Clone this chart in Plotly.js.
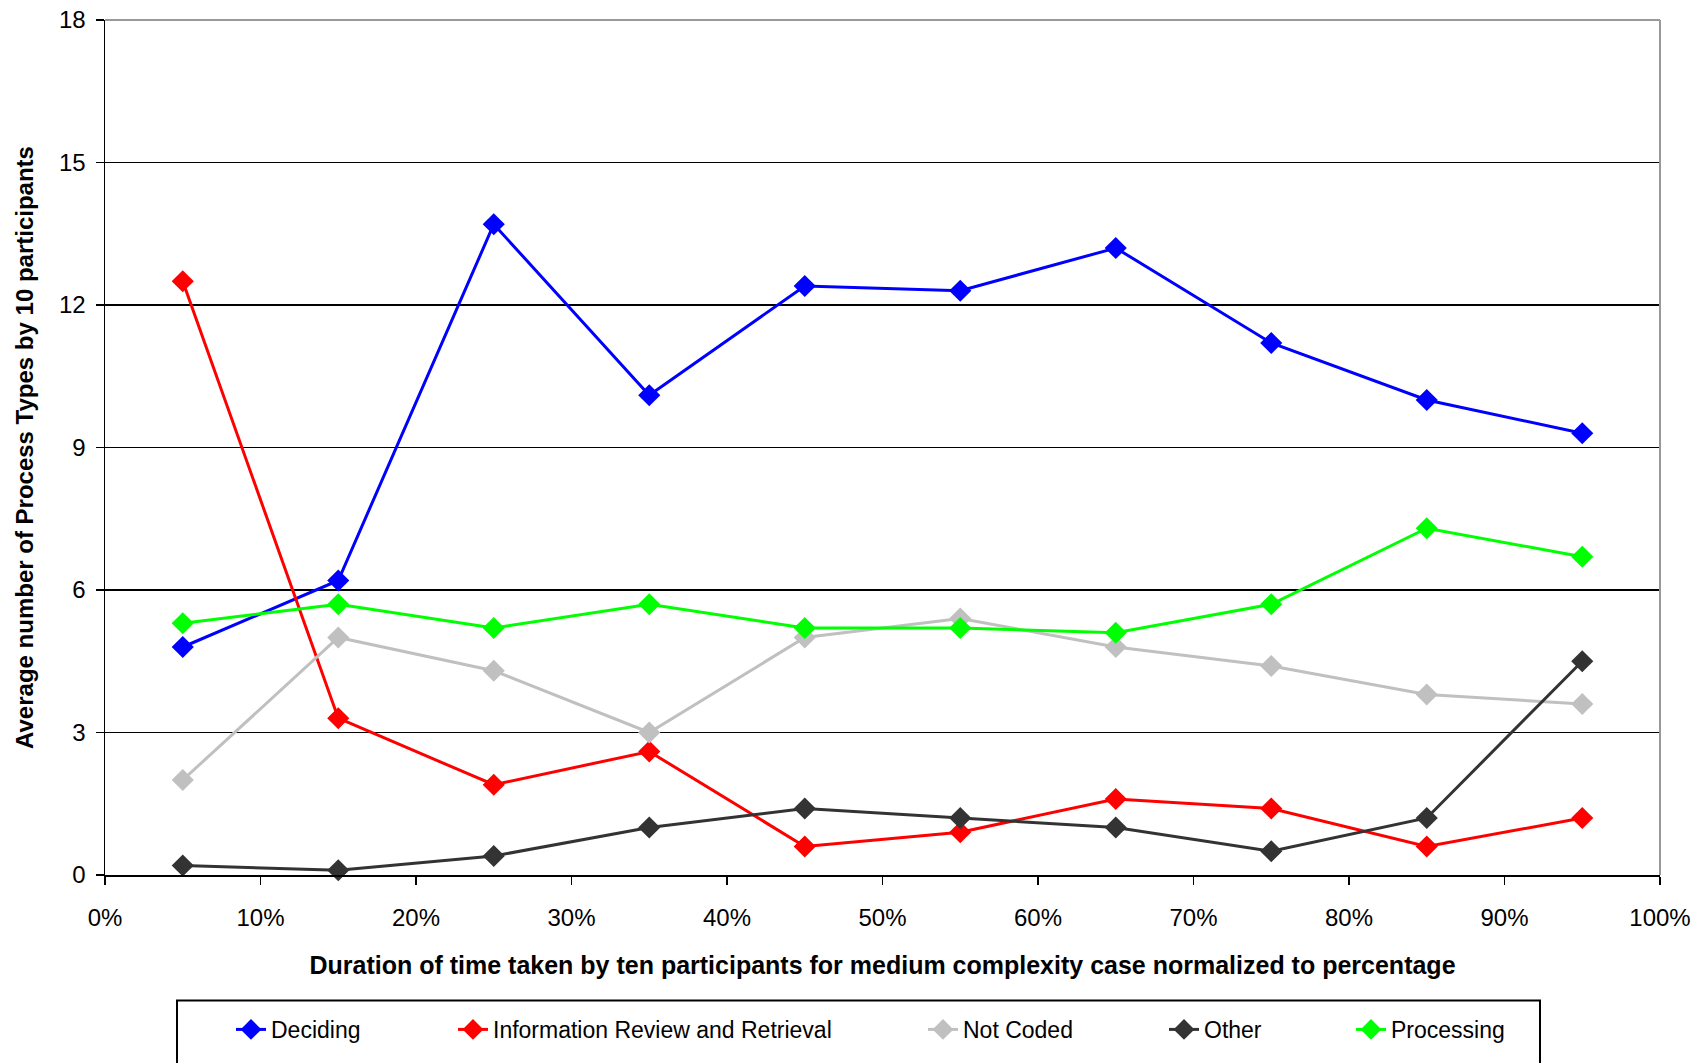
<!DOCTYPE html>
<html>
<head>
<meta charset="utf-8">
<script src="https://cdn.plot.ly/plotly-3.0.1.min.js"></script>
<style>html,body{margin:0;padding:0;background:#fff;}#chart{width:1706px;height:1063px;}</style>
</head>
<body>
<div id="chart"></div>
<script>
const xPercent = [5, 15, 25, 35, 45, 55, 65, 75, 85, 95];
const seriesNames = ["Deciding", "Information Review and Retrieval", "Not Coded", "Other", "Processing"];
const deciding = [4.8, 6.2, 13.7, 10.1, 12.4, 12.3, 13.2, 11.2, 10.0, 9.3];
const infoReview = [12.5, 3.3, 1.9, 2.6, 0.6, 0.9, 1.6, 1.4, 0.6, 1.2];
const notCoded = [2.0, 5.0, 4.3, 3.0, 5.0, 5.4, 4.8, 4.4, 3.8, 3.6];
const other = [0.2, 0.1, 0.4, 1.0, 1.4, 1.2, 1.0, 0.5, 1.2, 4.5];
const processing = [5.3, 5.7, 5.2, 5.7, 5.2, 5.2, 5.1, 5.7, 7.3, 6.7];
const xTickVals = [0, 10, 20, 30, 40, 50, 60, 70, 80, 90, 100];
const yTickVals = [0, 3, 6, 9, 12, 15, 18];

const seriesData = [deciding, infoReview, notCoded, other, processing];
const colors = ["#0000FF", "#FF0000", "#C0C0C0", "#333333", "#00FF00"];

// plot-area geometry in pixels
const W = 1706, H = 1063;
const L = 105, R = 46, T = 20, B = 185;
const pw = W - L - R, ph = H - T - B;
const px2x = p => (p - L) / pw;
const py2y = p => (H - B - p) / ph;

const legendTextStarts = [273, 495, 965, 1206, 1393];
const legendIds = ["legend", "legend2", "legend3", "legend4", "legend5"];

const font = "Liberation Sans, Arial, sans-serif";

const traces = seriesData.map((ys, i) => ({
  type: "scatter",
  mode: "lines+markers",
  name: seriesNames[i],
  x: xPercent,
  y: ys,
  line: {color: colors[i], width: 3},
  marker: {symbol: "diamond", size: 17, color: colors[i]},
  legend: legendIds[i],
  cliponaxis: false
}));

const layout = {
  width: W, height: H,
  margin: {l: L, r: R, t: T, b: B},
  paper_bgcolor: "#fff",
  plot_bgcolor: "#fff",
  font: {family: font, size: 24, color: "#000"},
  showlegend: true,
  xaxis: {
    range: [0, 100],
    tickvals: xTickVals,
    ticktext: xTickVals.map(v => v + "%"),
    ticks: "outside", ticklen: 8, tickwidth: 1.5, tickcolor: "#000",
    ticklabelstandoff: 13,
    showline: true, linecolor: "#000", linewidth: 1.5,
    showgrid: false, zeroline: false,
    tickfont: {family: font, size: 24, color: "#000"},
    title: {text: "<b>Duration of time taken by ten participants for medium complexity case normalized to percentage</b>",
            font: {family: font, size: 25, color: "#000"}, standoff: 26}
  },
  yaxis: {
    range: [0, 18],
    tickvals: yTickVals,
    ticks: "outside", ticklen: 8, tickwidth: 1.5, tickcolor: "#000",
    ticklabelstandoff: 5,
    showline: true, linecolor: "#000", linewidth: 1.5,
    showgrid: true, gridcolor: "#000", gridwidth: 1.6,
    zeroline: false,
    tickfont: {family: font, size: 24, color: "#000"},
    title: {text: "<b>Average number of Process Types by 10 participants</b>",
            font: {family: font, size: 24, color: "#000"}, standoff: 18}
  },
  shapes: [
    {type: "line", xref: "paper", yref: "paper", x0: 0, x1: 1, y0: 1, y1: 1, line: {color: "#999", width: 2}, layer: "above"},
    {type: "line", xref: "paper", yref: "paper", x0: 1, x1: 1, y0: 0, y1: 1, line: {color: "#999", width: 2}, layer: "above"},
    {type: "rect", xref: "paper", yref: "paper", x0: px2x(177), x1: px2x(1540), y0: py2y(1004), y1: py2y(1090),
     line: {color: "#000", width: 2}, fillcolor: "rgba(0,0,0,0)"}
  ]
};

legendIds.forEach((id, i) => {
  layout[id] = {
    orientation: "h",
    x: px2x(legendTextStarts[i] - 42),
    xanchor: "left",
    y: py2y(1033),
    yanchor: "middle",
    bgcolor: "rgba(0,0,0,0)",
    borderwidth: 0,
    font: {family: font, size: 23, color: "#000"}
  };
});

Plotly.newPlot("chart", traces, layout, {displayModeBar: false, staticPlot: true});
</script>
</body>
</html>
